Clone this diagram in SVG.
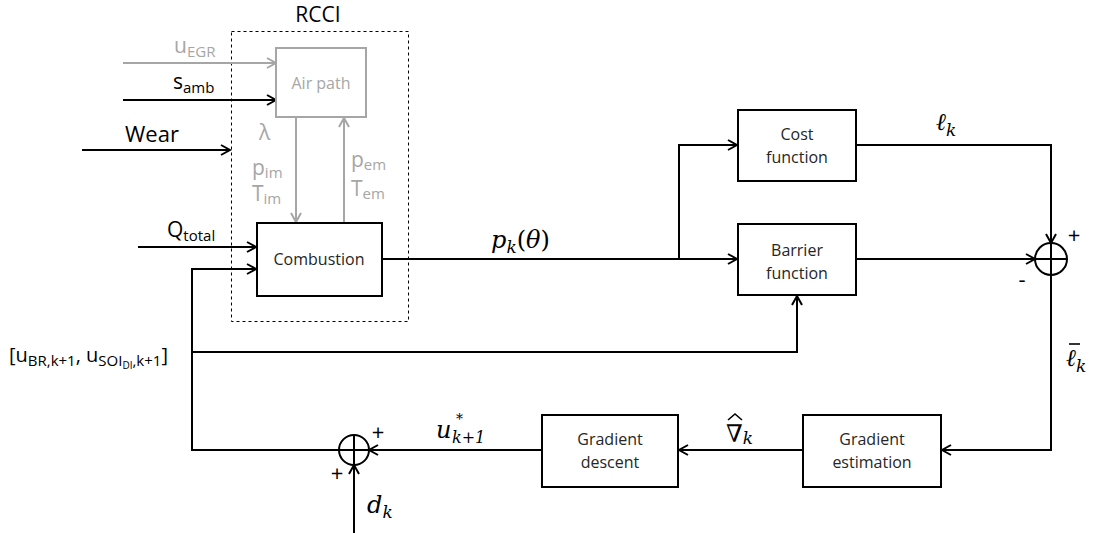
<svg xmlns="http://www.w3.org/2000/svg" width="1100" height="533" viewBox="0 0 1100 533">
  <style>
    .box { fill: #ffffff; stroke: #000000; stroke-width: 2; }
    .gbox { fill: #ffffff; stroke: #a6a6a6; stroke-width: 2; }
    .wire { fill: none; stroke: #000000; stroke-width: 2; }
    .gwire { fill: none; stroke: #a6a6a6; stroke-width: 2; }
    .lbl { font-family: "Open Sans", "Noto Sans", sans-serif; font-size: 16px; fill: #262626; text-anchor: middle; }
    .sig { font-family: "Open Sans", "Noto Sans", sans-serif; font-size: 21px; fill: #000000; }
    .gsig { font-family: "Open Sans", "Noto Sans", sans-serif; font-size: 21px; fill: #a6a6a6; }
    .sub { font-size: 15px; }
    .math { font-family: "DejaVu Serif", "Liberation Serif", serif; font-style: italic; font-size: 24px; fill: #000000; }
    .msub { font-size: 17px; }
    .accent { fill: none; stroke: #000000; stroke-width: 1.6; }
    .sign { font-family: "Open Sans", "Noto Sans", sans-serif; font-size: 22px; fill: #000000; text-anchor: middle; }
  </style>
  <defs>
    <marker id="arr" viewBox="-11 -7 13 14" refX="0" refY="0" markerWidth="13" markerHeight="14" markerUnits="userSpaceOnUse" orient="auto">
      <path d="M-9,-5 L0,0 L-9,5" fill="none" stroke="#000000" stroke-width="2"/>
    </marker>
    <marker id="garr" viewBox="-11 -7 13 14" refX="0" refY="0" markerWidth="13" markerHeight="14" markerUnits="userSpaceOnUse" orient="auto">
      <path d="M-9,-5 L0,0 L-9,5" fill="none" stroke="#a6a6a6" stroke-width="2"/>
    </marker>
  </defs>

  <rect width="1100" height="533" fill="#ffffff"/>

  <!-- RCCI engine boundary -->
  <g id="rcci">
    <rect x="231.5" y="31.5" width="177" height="290" fill="none" stroke="#000000" stroke-width="1" stroke-dasharray="3,3"/>
    <text x="318" y="22" class="sig" text-anchor="middle">RCCI</text>
  </g>

  <!-- connectors -->
  <g id="connectors">
    <line x1="123" y1="63" x2="276" y2="63" class="gwire" marker-end="url(#garr)"/>
    <line x1="123" y1="100" x2="276" y2="100" class="wire" marker-end="url(#arr)"/>
    <line x1="82" y1="150" x2="230" y2="150" class="wire" marker-end="url(#arr)"/>
    <line x1="296" y1="117" x2="296" y2="222" class="gwire" marker-end="url(#garr)"/>
    <line x1="344" y1="223" x2="344" y2="118" class="gwire" marker-end="url(#garr)"/>
    <line x1="138" y1="247" x2="256" y2="247" class="wire" marker-end="url(#arr)"/>
    <polyline points="192,451 192,269 256,269" class="wire" marker-end="url(#arr)"/>
    <polyline points="192,352 797,352 797,296" class="wire" marker-end="url(#arr)"/>
    <line x1="382" y1="259" x2="737" y2="259" class="wire" marker-end="url(#arr)"/>
    <polyline points="679,259 679,145 737,145" class="wire" marker-end="url(#arr)"/>
    <polyline points="856,145 1051,145 1051,243" class="wire" marker-end="url(#arr)"/>
    <line x1="856" y1="259" x2="1035" y2="259" class="wire" marker-end="url(#arr)"/>
    <polyline points="1051,275 1051,450 942,450" class="wire" marker-end="url(#arr)"/>
    <line x1="803" y1="450" x2="679" y2="450" class="wire" marker-end="url(#arr)"/>
    <line x1="542" y1="450" x2="369" y2="450" class="wire" marker-end="url(#arr)"/>
    <line x1="339" y1="450" x2="191" y2="450" class="wire"/>
    <line x1="354" y1="533" x2="354" y2="465" class="wire" marker-end="url(#arr)"/>
  </g>

  <!-- blocks -->
  <g id="air-path">
    <rect x="276" y="48" width="90" height="69" class="gbox"/>
    <text x="321" y="89" class="lbl" style="fill:#a6a6a6">Air path</text>
  </g>
  <g id="combustion">
    <rect x="257" y="223" width="125" height="73" class="box"/>
    <text x="319" y="265" class="lbl">Combustion</text>
  </g>
  <g id="cost-function">
    <rect x="738" y="110" width="118" height="71" class="box"/>
    <text x="797" y="140" class="lbl">Cost</text>
    <text x="797" y="163" class="lbl">function</text>
  </g>
  <g id="barrier-function">
    <rect x="738" y="224" width="118" height="71" class="box"/>
    <text x="797" y="256" class="lbl">Barrier</text>
    <text x="797" y="279" class="lbl">function</text>
  </g>
  <g id="gradient-estimation">
    <rect x="803" y="415" width="138" height="72" class="box"/>
    <text x="872" y="445" class="lbl">Gradient</text>
    <text x="872" y="468" class="lbl">estimation</text>
  </g>
  <g id="gradient-descent">
    <rect x="542" y="415" width="136" height="72" class="box"/>
    <text x="610" y="445" class="lbl">Gradient</text>
    <text x="610" y="468" class="lbl">descent</text>
  </g>
  <g id="sum-cost">
    <circle cx="1051" cy="259" r="16" fill="#ffffff" stroke="#000000" stroke-width="2"/>
    <path d="M1035,259 H1067 M1051,243 V275" class="wire"/>
    <text x="1074" y="243" class="sign">+</text>
    <text x="1022" y="287" class="sign">-</text>
  </g>
  <g id="sum-input">
    <circle cx="354" cy="450" r="15" fill="#ffffff" stroke="#000000" stroke-width="2"/>
    <path d="M339,450 H369 M354,435 V465" class="wire"/>
    <text x="378" y="440" class="sign">+</text>
    <text x="337" y="481" class="sign">+</text>
  </g>

  <!-- signal labels -->
  <g id="labels">
    <text x="174" y="53" class="gsig">u<tspan class="sub" dy="4">EGR</tspan></text>
    <text x="173" y="89" class="sig">s<tspan class="sub" dy="4">amb</tspan></text>
    <text x="125" y="142" class="sig" style="font-size:22px">Wear</text>
    <text x="167" y="237" class="sig">Q<tspan class="sub" dy="4">total</tspan></text>
    <text x="259" y="140" class="gsig">λ</text>
    <text x="252" y="175" class="gsig">p<tspan class="sub" dy="3">im</tspan></text>
    <text x="252" y="201" class="gsig">T<tspan class="sub" dy="3">im</tspan></text>
    <text x="351" y="167" class="gsig">p<tspan class="sub" dy="3">em</tspan></text>
    <text x="351" y="196" class="gsig">T<tspan class="sub" dy="3">em</tspan></text>
    <text x="9" y="362" class="sig" style="font-size:20px">[u<tspan class="sub" dy="4">BR,k+1</tspan><tspan dy="-4">, u</tspan><tspan class="sub" dy="4">SOI</tspan><tspan style="font-size:10px" dy="3">DI</tspan><tspan class="sub" dy="-3">,k+1</tspan><tspan dy="-4">]</tspan></text>
    <text x="491" y="248" class="math">p<tspan class="msub" dy="5">k</tspan><tspan dy="-5" font-style="normal">(</tspan>θ<tspan font-style="normal">)</tspan></text>
    <text x="936" y="130" class="math">ℓ<tspan class="msub" dy="6">k</tspan></text>
    <text x="1066" y="366" class="math">ℓ<tspan class="msub" dy="6">k</tspan></text>
    <line x1="1069" y1="344" x2="1080" y2="344" class="accent"/>
    <text x="726" y="442" class="math" font-style="normal">∇<tspan class="msub" font-style="italic" dy="2">k</tspan></text>
    <polyline points="728,420 735,414 742,420" class="accent"/>
    <text x="436" y="438" class="math">u</text>
    <text x="456" y="424" class="math" style="font-size:14px">*</text>
    <text x="452" y="443" class="math" style="font-size:16px">k+1</text>
    <text x="367" y="513" class="math">d<tspan class="msub" dy="5">k</tspan></text>
  </g>
</svg>
